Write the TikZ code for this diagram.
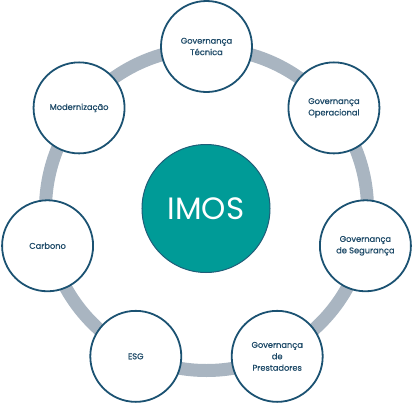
\documentclass[tikz,border=0pt]{standalone}
\usepackage{fontspec}
\setmainfont{Poppins}
\newfontfamily\medfont{Poppins}[FakeBold=0.7]
\definecolor{nodeblue}{HTML}{1B5272}
\definecolor{textblue}{HTML}{1E4A68}
\definecolor{bandgray}{HTML}{A9B5C1}
\definecolor{imosteal}{HTML}{009B97}
\definecolor{imosedge}{HTML}{1F5E78}
\begin{document}
\begin{tikzpicture}[x=1bp,y=-1bp,
  sat/.style={circle, draw=nodeblue, line width=1.8bp, fill=white,
    minimum size=91bp, inner sep=0pt, align=center,
    font=\medfont\fontsize{8.3}{11.5}\selectfont, text=textblue},
  hub/.style={circle, draw=imosedge, line width=1bp, fill=imosteal,
    minimum size=128bp, inner sep=0pt, text=white,
    font=\fontsize{31}{31}\selectfont},
  ring/.style={draw=bandgray, line width=13bp}]
\useasboundingbox (0,0) rectangle (413,403);
\coordinate (c) at (206.5,209.5);
\draw[ring] (c) circle[radius=161];
\node[hub] (imos) at (206,208.5) {IMOS};
\node[sat] (tec) at ([shift={(-90:163)}]c) {Governança\\Técnica};
\node[sat] (ope) at ([shift={(-38.57:163)}]c) {Governança\\Operacional};
\node[sat] (seg) at ([shift={(12.86:163)}]c) {Governança\\de Segurança};
\node[sat] (pre) at ([shift={(64.29:163)}]c) {Governança\\de\\Prestadores};
\node[sat] (esg) at ([shift={(115.71:163)}]c) {ESG};
\node[sat] (car) at ([shift={(167.14:163)}]c) {Carbono};
\node[sat] (mod) at ([shift={(-141.43:163)}]c) {Modernização};
\end{tikzpicture}
\end{document}
